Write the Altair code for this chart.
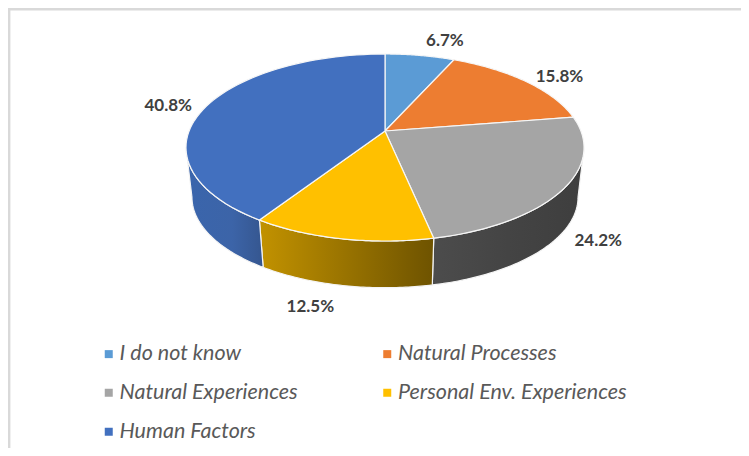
import math
import altair as alt
import pandas as pd

categories = ["I do not know", "Natural Processes", "Natural Experiences",
              "Personal Env. Experiences", "Human Factors"]
shares = [6.7, 15.8, 24.2, 12.5, 40.8]
colors = ["#5b9bd5", "#ed7d31", "#a5a5a5", "#ffc000", "#4270bf"]
label_offsets = [(25, -14), (34, -4), (34, 53), (-31, 68), (-38, 0)]

# Projection of the tilted disc (page pixels)
CX, CY, A, B, K = 385.0, 131.0, 195.9, 90.6, 0.1765
DEPTH, SHRINK = 50.0, 0.97
LEFT_T, RIGHT_T = 259.8, 100.2
W, H = 733, 440


def project(theta, lower=False):
    t = math.radians(theta)
    u, v = math.sin(t), math.cos(t)
    w = 1 + K * v
    x, y = A * u / w, -B * v / w
    if lower:
        return CX + SHRINK * x, CY + DEPTH + SHRINK * y
    return CX + x, CY + y


def sweep(a, b, n=60):
    return [a + (b - a) * i / n for i in range(n + 1)]


bounds = [0.0]
for s in shares:
    bounds.append(bounds[-1] + s * 3.6)

top_rows = []
for cat, a, b in zip(categories, bounds, bounds[1:]):
    pts = [(CX, CY)] + [project(t) for t in sweep(a, b)] + [(CX, CY)]
    for i, (x, y) in enumerate(pts):
        top_rows.append({"cat": cat, "i": i, "x": x, "y": y})
top_df = pd.DataFrame(top_rows)


def side_df(a, b):
    pts = [project(t) for t in sweep(a, b)] + [project(t, True) for t in sweep(b, a)]
    pts.append(pts[0])
    return pd.DataFrame([{"i": i, "x": x, "y": y} for i, (x, y) in enumerate(pts)])


X = alt.X("x:Q", axis=None, scale=alt.Scale(domain=[8, 8 + W], nice=False, zero=False))
Y = alt.Y("y:Q", axis=None, scale=alt.Scale(domain=[8, 8 + H], reverse=True, nice=False, zero=False))


def grad(*stops):
    return alt.LinearGradient(
        gradient="linear", x1=0, x2=1, y1=0, y2=0,
        stops=[alt.GradientStop(color=c, offset=o) for o, c in stops])


layers = []
side_specs = [
    (RIGHT_T, bounds[3], grad((0, "#4c4c4c"), (0.5, "#444444"), (1, "#3e3e3e"))),
    (bounds[3], bounds[4], grad((0, "#c29200"), (1, "#6e5300"))),
    (bounds[4], LEFT_T, grad((0, "#3a65ac"), (0.6, "#3c64a8"), (1, "#35568f"))),
]
for a, b, fill in side_specs:
    layers.append(alt.Chart(side_df(a, b)).mark_line(fill=fill, stroke="#f4f4f4", strokeWidth=1.2)
                  .encode(x=X, y=Y, order="i:Q"))

legend = alt.Legend(
    title=None, orient="none", legendX=90, legendY=335, columns=2, direction="horizontal",
    symbolType="square", symbolSize=64, symbolStrokeWidth=0, labelFont="Lato",
    labelFontStyle="italic", labelFontSize=21.5, labelColor="#595959", labelOffset=0,
    columnPadding=78.5, rowPadding=16, padding=0, labelLimit=400)

tops = alt.Chart(top_df).mark_line(stroke="#f6f6f6", strokeWidth=1.2).encode(
    x=X, y=Y, order="i:Q",
    fill=alt.Fill("cat:N", scale=alt.Scale(domain=categories, range=colors),
                  sort=categories, legend=legend),
    detail="cat:N")
layers.append(tops)

for cat, s, a, b, (dx, dy) in zip(categories, shares, bounds, bounds[1:], label_offsets):
    x, y = project((a + b) / 2)
    d = pd.DataFrame([{"x": x, "y": y, "t": f"{s:.1f}%"}])
    layers.append(alt.Chart(d).mark_text(
        font="Lato", fontWeight="bold", fontSize=17, color="#404040",
        dx=dx, dy=dy, align="center", baseline="middle").encode(x=X, y=Y, text="t:N"))

frame_v = alt.Chart(pd.DataFrame({"a": [0]})).mark_rule(color="#d9d9d9", strokeWidth=2.4).encode(
    x=alt.value(1.2), y=alt.value(0), y2=alt.value(H))
frame_h = alt.Chart(pd.DataFrame({"a": [0]})).mark_rule(color="#d9d9d9", strokeWidth=2.4).encode(
    y=alt.value(1.2), x=alt.value(0), x2=alt.value(W))

chart = alt.layer(frame_v, frame_h, *layers).properties(
    width=W, height=H, padding=0, background="white",
    autosize=alt.AutoSizeParams(type="none"),
).configure_view(stroke=None)

chart.save("out.html", embed_options={"renderer": "svg", "actions": False})
